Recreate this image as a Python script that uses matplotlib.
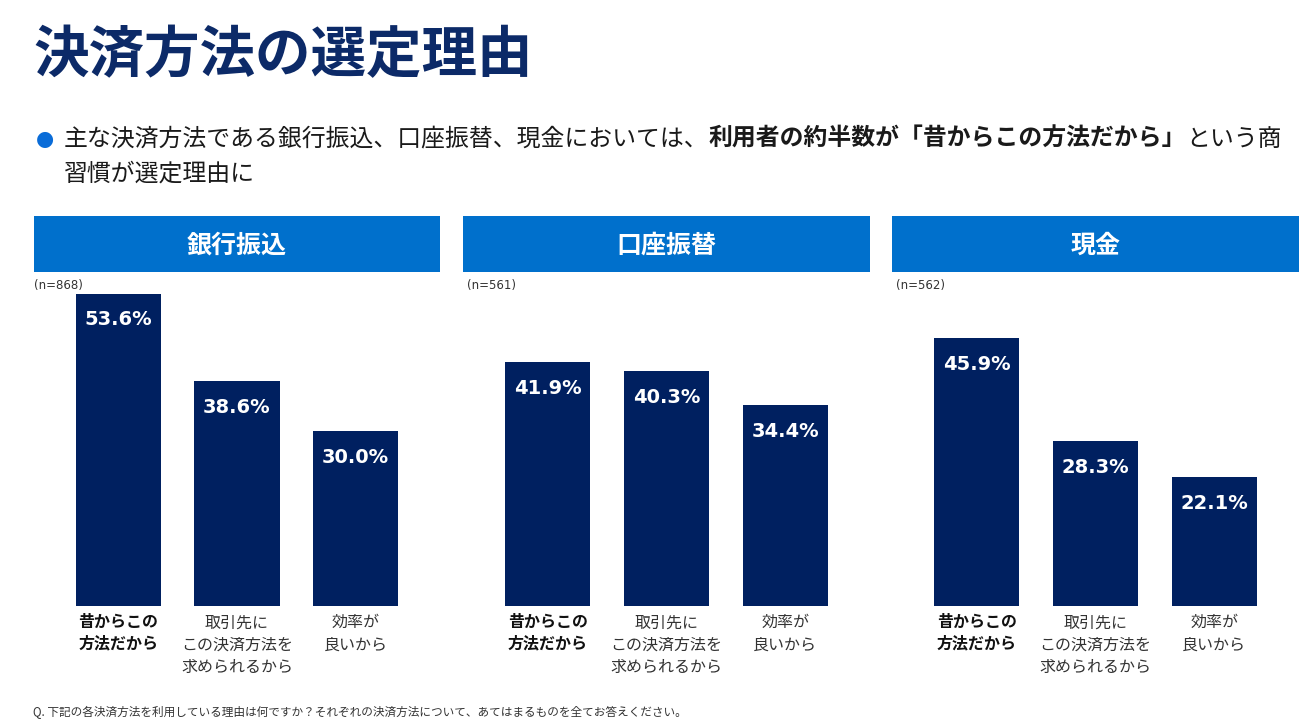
import matplotlib
matplotlib.use("Agg")
import matplotlib.pyplot as plt
from matplotlib.patches import Rectangle

plt.rcParams['font.family'] = ['Noto Sans CJK JP', 'DejaVu Sans']

# ---------------------------------- data ----------------------------------
title = "決済方法の選定理由"
panels = ["銀行振込", "口座振替", "現金"]
sample_sizes = ["(n=868)", "(n=561)", "(n=562)"]
categories = ["昔からこの\n方法だから", "取引先に\nこの決済方法を\n求められるから", "効率が\n良いから"]
bank_transfer = [53.6, 38.6, 30.0]
direct_debit = [41.9, 40.3, 34.4]
cash = [45.9, 28.3, 22.1]
values = [bank_transfer, direct_debit, cash]
footnote = ("Q. 下記の各決済方法を利用している理由は何ですか？"
            "それぞれの決済方法について、あてはまるものを全てお答えください。")
bullet_parts = [("主な決済方法である銀行振込、口座振替、現金においては、", "normal"),
                ("利用者の約半数が「昔からこの方法だから」", "bold"),
                ("という商", "normal")]
bullet_line2 = "習慣が選定理由に"
# --------------------------------------------------------------------------

W, H = 1299, 726
NAVY = "#0c2a68"
BAR = "#002060"
HEAD = "#0070cc"


def fx(x):
    return x / W


def fy(y):
    return 1 - y / H


fig = plt.figure(figsize=(W / 100, H / 100), dpi=100)

# title
fig.text(fx(33), fy(56), title, fontsize=40, fontweight="bold", color=NAVY,
         va="center", ha="left")

# bullet text with a bold segment in the middle
fig.text(fx(36), fy(139), "●", fontsize=15, color="#0a6cd8", va="center", ha="left",
         family="DejaVu Sans")
renderer = fig.canvas.get_renderer()
x = fx(64)
for txt, w in bullet_parts:
    t = fig.text(x, fy(139), txt, fontsize=17.2, fontweight=w, color="#1a1a1a",
                 va="center", ha="left")
    bb = t.get_window_extent(renderer=renderer)
    x = bb.x1 / fig.bbox.width
fig.text(fx(64), fy(174), bullet_line2, fontsize=17.2, color="#1a1a1a",
         va="center", ha="left")

# panels
head_x = [34, 463, 892]
head_w = [406, 407, 407]
base_y = 606
px_per_pct = 5.83
ymax = 55

for k in range(3):
    x0 = head_x[k]
    fig.add_artist(Rectangle((fx(x0), fy(272)), head_w[k] / W, 56 / H,
                             transform=fig.transFigure, color=HEAD, lw=0))
    fig.text(fx(x0 + head_w[k] / 2), fy(246), panels[k], fontsize=18, fontweight="bold",
             color="white", ha="center", va="center")
    fig.text(fx(x0 + (0 if k == 0 else 4)), fy(285), sample_sizes[k], fontsize=8.5,
             color="#333333", ha="left", va="center", family="DejaVu Sans")

    ax = fig.add_axes([fx(x0), fy(base_y), head_w[k] / W, ymax * px_per_pct / H])
    pos = range(len(categories))
    ax.bar(pos, values[k], width=0.72, color=BAR)
    ax.set_xlim(-0.713, 2.713)
    ax.set_ylim(0, ymax)
    ax.axis("off")

    for i, v in enumerate(values[k]):
        ax.annotate(f"{v:.1f}%", xy=(i, v), xytext=(0, -19), textcoords="offset points",
                    ha="center", va="center", color="white", fontsize=14,
                    fontweight="bold", family="DejaVu Sans")
        ax.annotate(categories[i], xy=(i, 0), xytext=(0, -6), textcoords="offset points",
                    ha="center", va="top", fontsize=11.5, linespacing=1.4,
                    fontweight="bold" if i == 0 else "normal",
                    color="#111111" if i == 0 else "#333333", annotation_clip=False)

# footnote
fig.text(fx(33), fy(712), footnote, fontsize=8.4, color="#333333", ha="left", va="center")

fig.savefig("out.png", dpi=100)
